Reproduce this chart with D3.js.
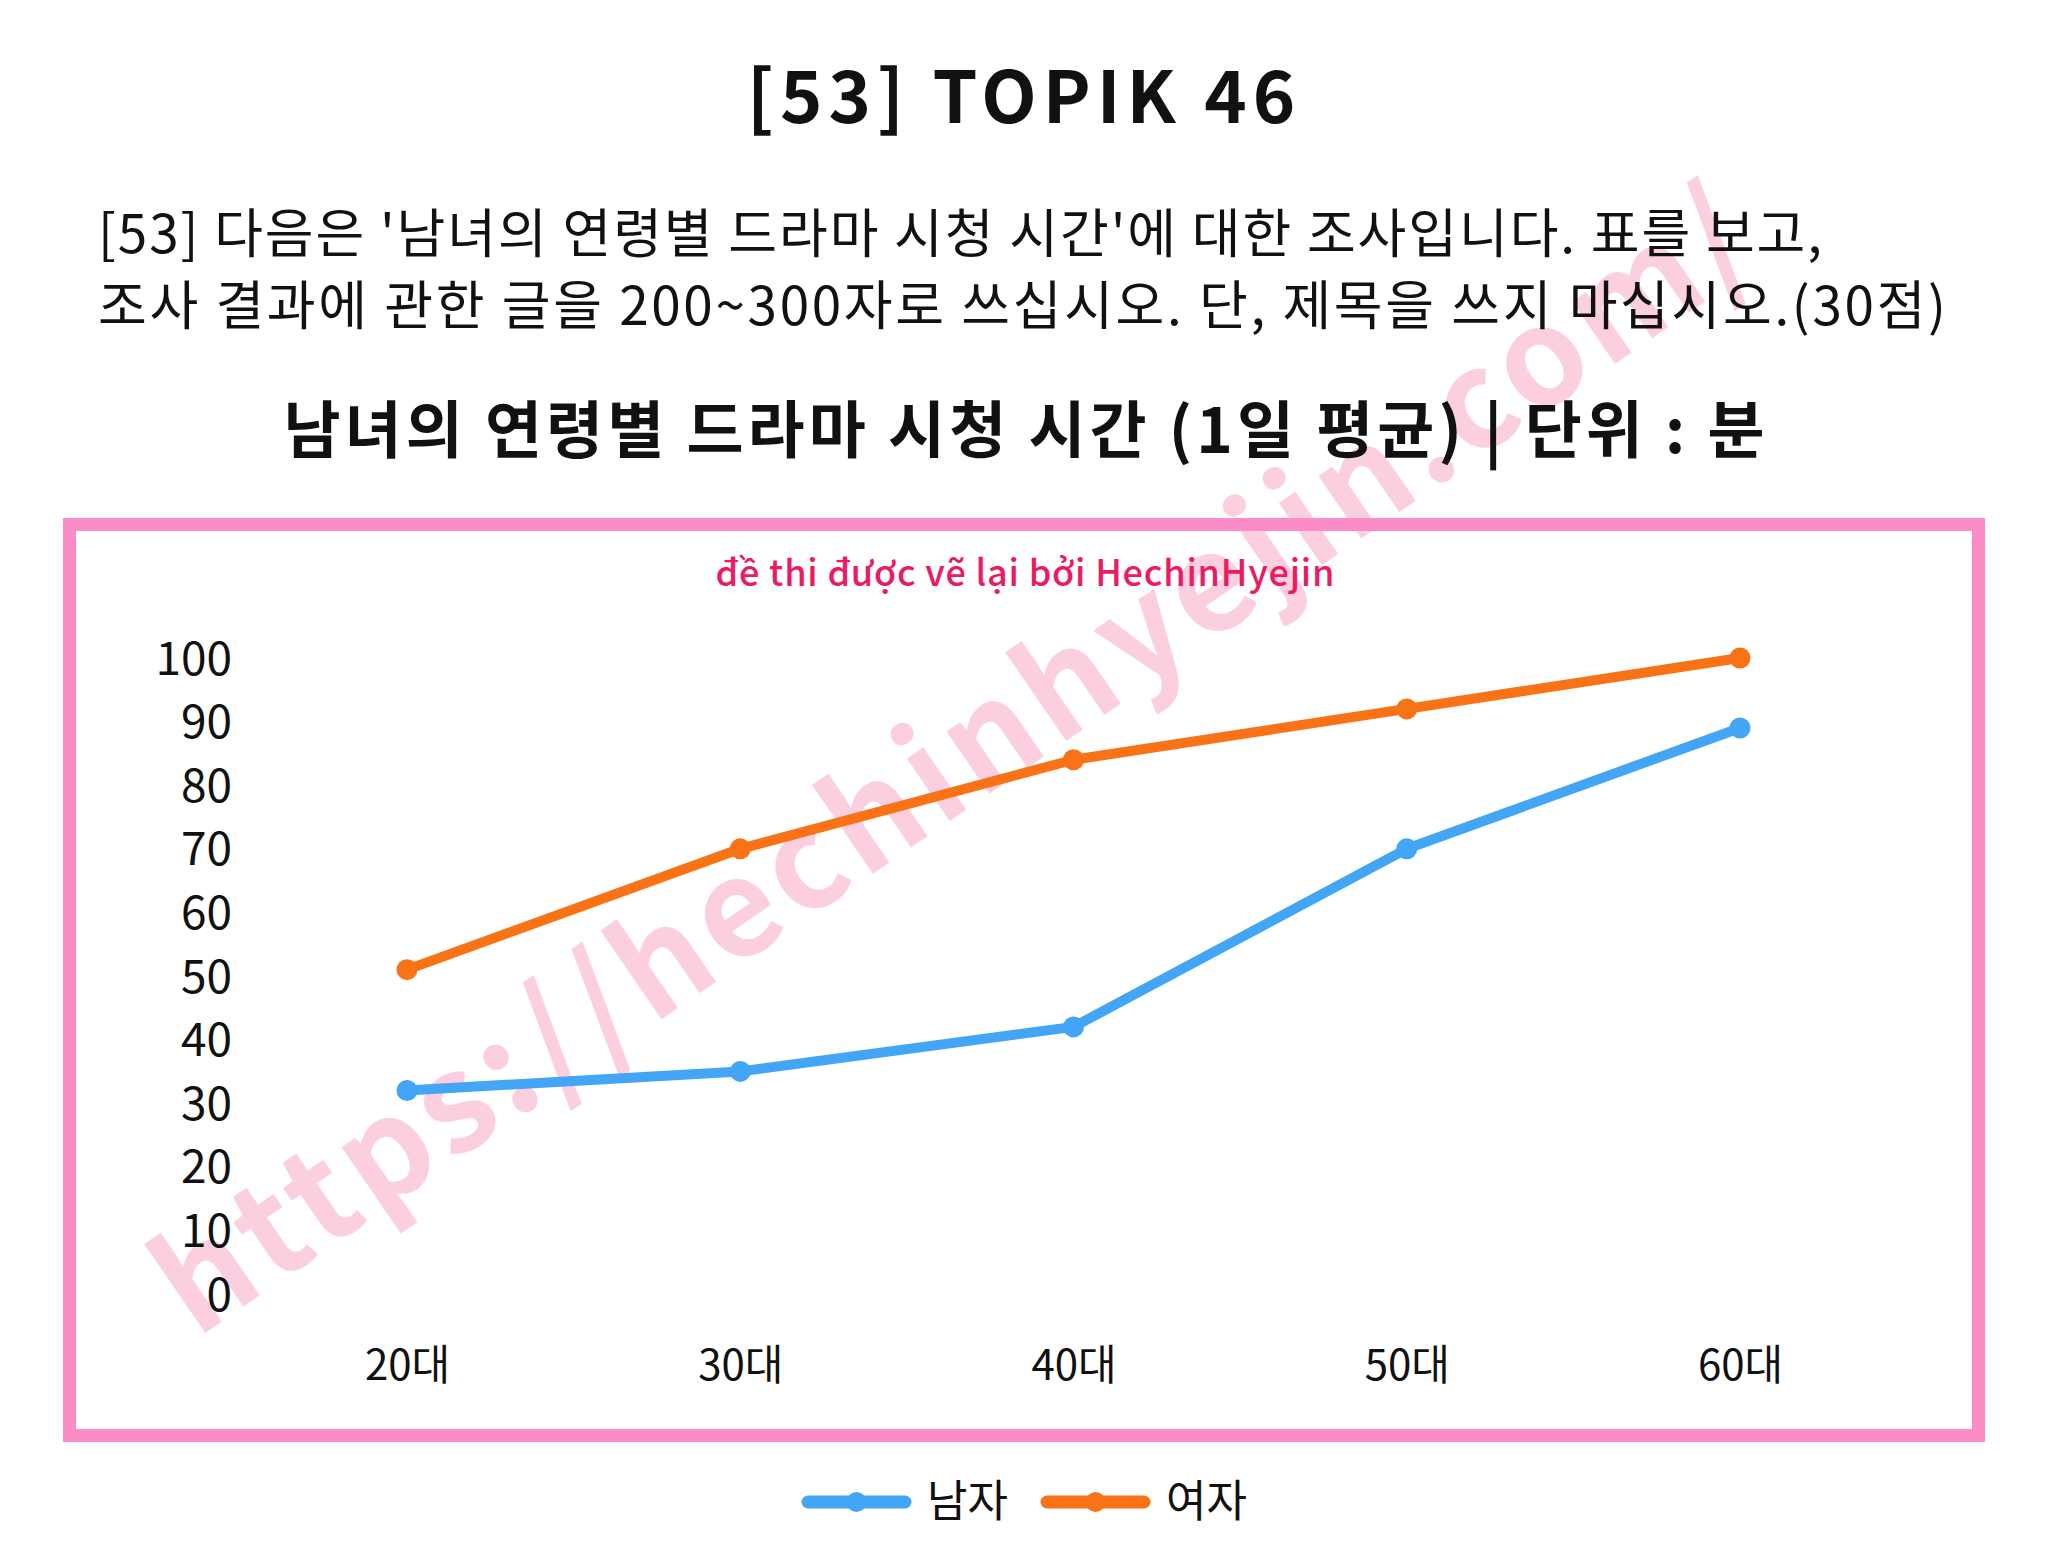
<!DOCTYPE html>
<html>
<head>
<meta charset="utf-8">
<script src="https://cdn.jsdelivr.net/npm/d3@7"></script>
<style>
  html, body { margin: 0; padding: 0; background: #fff; }
  svg { display: block; }
  text { font-family: "Noto Sans CJK KR", "Noto Sans", sans-serif; }
</style>
</head>
<body>
<svg id="chart" width="2048" height="1563"></svg>
<script>
// chart data
const ageGroups = ['20대', '30대', '40대', '50대', '60대'];
const maleMinutes = [32, 35, 42, 70, 89];
const femaleMinutes = [51, 70, 84, 92, 100];
const yTicks = [0, 10, 20, 30, 40, 50, 60, 70, 80, 90, 100];

const seriesNames = ['남자', '여자'];
const seriesColors = ['#42a5f5', '#f97316'];

const pageTitle = '[53] TOPIK 46';
const questionLines = [
  "[53] 다음은 '남녀의 연령별 드라마 시청 시간'에 대한 조사입니다. 표를 보고,",
  '조사 결과에 관한 글을 200~300자로 쓰십시오. 단, 제목을 쓰지 마십시오.(30점)'
];
const questionWidths = [1724, 1848];
const chartTitle = '남녀의 연령별 드라마 시청 시간 (1일 평균) | 단위 : 분';
const credit = 'đề thi được vẽ lại bởi HechinHyejin';
const watermark = 'https://hechinhyejin.com/';

const series = seriesNames.map((name, i) => ({
  name,
  color: seriesColors[i],
  values: (i === 0 ? maleMinutes : femaleMinutes).map((v, j) => ({ age: ageGroups[j], v }))
}));

const $svg = d3.select('#chart');

// big diagonal watermark, behind everything
$svg.append('text')
  .attr('transform', 'translate(946,752) rotate(-34.5)')
  .attr('text-anchor', 'middle')
  .attr('dominant-baseline', 'central')
  .attr('font-family', '"Noto Sans", sans-serif')
  .attr('font-weight', 600)
  .attr('font-size', 135)
  .attr('textLength', 1900)
  .attr('lengthAdjust', 'spacing')
  .attr('fill', '#fccfe0')
  .text(watermark);

// headings
$svg.append('text')
  .attr('x', 1024)
  .attr('y', 123)
  .attr('text-anchor', 'middle')
  .attr('font-weight', 700)
  .attr('font-size', 72)
  .attr('letter-spacing', 6)
  .attr('fill', '#111')
  .text(pageTitle);

$svg.selectAll('text.question')
  .data(questionLines)
  .join('text')
  .attr('class', 'question')
  .attr('x', 98)
  .attr('y', (d, i) => 253 + i * 72)
  .attr('font-size', 53)
  .attr('textLength', (d, i) => questionWidths[i])
  .attr('lengthAdjust', 'spacing')
  .attr('fill', '#111')
  .text(d => d);

$svg.append('text')
  .attr('x', 1024)
  .attr('y', 453)
  .attr('text-anchor', 'middle')
  .attr('font-weight', 700)
  .attr('font-size', 62)
  .attr('textLength', 1481)
  .attr('lengthAdjust', 'spacing')
  .attr('fill', '#111')
  .text(chartTitle);

// pink frame
$svg.append('rect')
  .attr('x', 69.5)
  .attr('y', 524.5)
  .attr('width', 1909)
  .attr('height', 911)
  .attr('fill', 'none')
  .attr('stroke', '#fb8cc6')
  .attr('stroke-width', 13);

$svg.append('text')
  .attr('x', 1025)
  .attr('y', 586)
  .attr('text-anchor', 'middle')
  .attr('font-family', '"Noto Sans", sans-serif')
  .attr('font-weight', 500)
  .attr('font-size', 36)
  .attr('textLength', 619)
  .attr('lengthAdjust', 'spacing')
  .attr('fill', '#ec1a62')
  .text(credit);

// scales
const x = d3.scalePoint().domain(ageGroups).range([407, 1740]);
const y = d3.scaleLinear().domain([0, 100]).range([1294, 658]);

const $yAxis = $svg.append('g')
  .attr('transform', 'translate(232,0)')
  .call(d3.axisLeft(y).tickValues(yTicks).tickSize(0).tickPadding(0));
$yAxis.select('.domain').remove();
$yAxis.selectAll('text')
  .attr('font-family', '"Noto Sans", sans-serif')
  .attr('font-size', 46)
  .attr('fill', '#111')
  .attr('dy', '0.35em');

const $xAxis = $svg.append('g')
  .attr('transform', 'translate(0,1365)')
  .call(d3.axisBottom(x).tickSize(0).tickPadding(0));
$xAxis.select('.domain').remove();
$xAxis.selectAll('text')
  .attr('font-family', '"Noto Sans CJK KR", sans-serif')
  .attr('font-size', 42)
  .attr('fill', '#111')
  .attr('dy', '0.35em');

// lines and points
const line = d3.line().x(d => x(d.age)).y(d => y(d.v));

const $series = $svg.selectAll('g.series')
  .data(series)
  .join('g')
  .attr('class', 'series');

$series.append('path')
  .attr('d', d => line(d.values))
  .attr('fill', 'none')
  .attr('stroke', d => d.color)
  .attr('stroke-width', 10)
  .attr('stroke-linejoin', 'round')
  .attr('stroke-linecap', 'round');

$series.selectAll('circle')
  .data(d => d.values.map(p => ({ ...p, color: d.color })))
  .join('circle')
  .attr('cx', d => x(d.age))
  .attr('cy', d => y(d.v))
  .attr('r', 10.5)
  .attr('fill', d => d.color);

// legend
const $legend = $svg.selectAll('g.legend')
  .data(series)
  .join('g')
  .attr('class', 'legend')
  .attr('transform', (d, i) => `translate(${808 + i * 239},1502)`);

$legend.append('line')
  .attr('x1', 0).attr('x2', 97)
  .attr('stroke', d => d.color)
  .attr('stroke-width', 13)
  .attr('stroke-linecap', 'round');

$legend.append('circle')
  .attr('cx', 48.5)
  .attr('r', 10)
  .attr('fill', d => d.color);

$legend.append('text')
  .attr('x', 119)
  .attr('dy', '0.35em')
  .attr('font-size', 44)
  .attr('fill', '#111')
  .text(d => d.name);
</script>
</body>
</html>
